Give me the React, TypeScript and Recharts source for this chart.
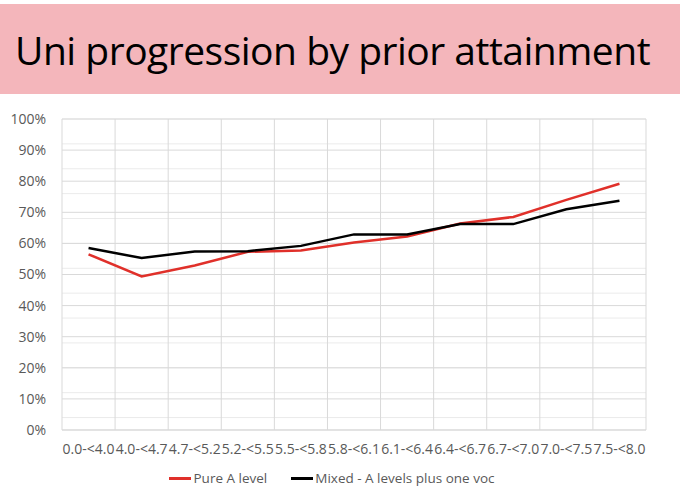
import React from "react";
import { LineChart, Line, XAxis, YAxis, CartesianGrid } from "recharts";

// attainment bands on the x axis
const bands = [
  "0.0-<4.0", "4.0-<4.7", "4.7-<5.2", "5.2-<5.5", "5.5-<5.8", "5.8-<6.1",
  "6.1-<6.4", "6.4-<6.7", "6.7-<7.0", "7.0-<7.5", "7.5-<8.0",
];

// progression rates (fraction)
const pureALevel = [0.565, 0.494, 0.529, 0.573, 0.577, 0.603, 0.622, 0.664, 0.685, 0.74, 0.792];
const mixedVoc = [0.585, 0.553, 0.574, 0.575, 0.592, 0.629, 0.629, 0.662, 0.662, 0.71, 0.737];

const yTicks = [0, 0.1, 0.2, 0.3, 0.4, 0.5, 0.6, 0.7, 0.8, 0.9, 1];
const minorTicks = Array.from({ length: 51 }, (_, i) => i / 50);
const bandEdges = Array.from({ length: bands.length + 1 }, (_, i) => i);

const data = bands.map((band, i) => ({
  band,
  idx: i + 0.5,
  pure: pureALevel[i],
  mixed: mixedVoc[i],
}));

const RED = "#e0302a";
const BLACK = "#000000";
const GREY_TEXT = "#595959";
const FONT = "'Open Sans', 'Noto Sans', sans-serif";

export default function App() {
  return (
    <div style={{ position: "absolute", left: 0, top: 0, width: 680, height: 493, background: "#fff", fontFamily: FONT }}>
      <div
        style={{
          position: "absolute", left: 0, top: 4, width: 680, height: 90,
          background: "#f4b6bb", display: "flex", alignItems: "center",
        }}
      >
        <span style={{ marginLeft: 15, fontSize: 39, color: "#000", letterSpacing: -0.5, whiteSpace: "nowrap" }}>
          Uni progression by prior attainment
        </span>
      </div>

      <LineChart
        width={680}
        height={493}
        data={data}
        margin={{ top: 119, right: 34, bottom: 33, left: 0 }}
        style={{ position: "absolute", left: 0, top: 0 }}
      >
        <CartesianGrid vertical={false} horizontalValues={minorTicks} stroke="#ebebeb" />
        <CartesianGrid vertical={false} stroke="#d9d9d9" />
        <CartesianGrid horizontal={false} xAxisId="edges" stroke="#d9d9d9" />
        <XAxis
          dataKey="band"
          scale="band"
          interval={0}
          height={30}
          tickLine={false}
          axisLine={{ stroke: "#d9d9d9" }}
          tick={{ fill: GREY_TEXT, fontSize: 14, fontFamily: FONT }}
          tickMargin={8}
        />
        <XAxis xAxisId="edges" type="number" dataKey="idx" domain={[0, bands.length]} ticks={bandEdges} hide />
        <YAxis
          width={62}
          domain={[0, 1]}
          ticks={yTicks}
          tickLine={false}
          axisLine={false}
          tickFormatter={(v: number) => `${Math.round(v * 100)}%`}
          tick={{ fill: GREY_TEXT, fontSize: 14, fontFamily: FONT }}
          tickMargin={10}
        />
        <Line dataKey="pure" stroke={RED} strokeWidth={2.5} dot={false} isAnimationActive={false} />
        <Line dataKey="mixed" stroke={BLACK} strokeWidth={2.5} dot={false} isAnimationActive={false} />
      </LineChart>

      <div
        style={{
          position: "absolute", left: 0, top: 469, width: 680, display: "flex",
          justifyContent: "center", alignItems: "center", fontSize: 13.5, color: GREY_TEXT,
          paddingRight: 16, boxSizing: "border-box",
        }}
      >
        <span style={{ display: "inline-block", width: 22, height: 3, background: RED, marginRight: 2 }} />
        <span>Pure A level</span>
        <span style={{ display: "inline-block", width: 22, height: 3, background: BLACK, marginLeft: 24, marginRight: 2 }} />
        <span>Mixed - A levels plus one voc</span>
      </div>
    </div>
  );
}
